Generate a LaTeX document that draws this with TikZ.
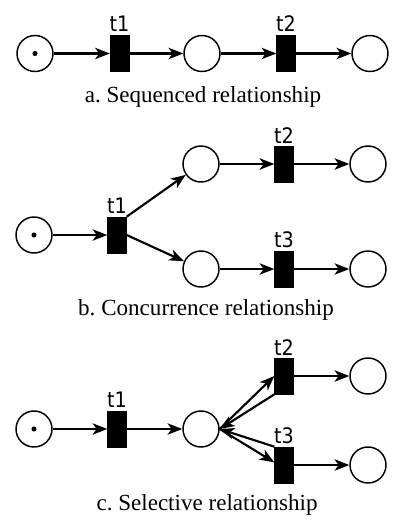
\documentclass[tikz,border=0pt]{standalone}
\usepackage{fontspec}
\setmainfont{Liberation Serif}
\newfontfamily\labfont{DejaVu Sans Condensed}
\usetikzlibrary{arrows.meta}
\frenchspacing
\begin{document}
\begin{tikzpicture}[x=0.75pt,y=-0.75pt,
  place/.style={circle,draw,line width=1.1pt,minimum size=27pt,inner sep=0pt},
  trans/.style={rectangle,fill=black,draw=black,line width=0.5pt,minimum width=14pt,minimum height=27pt,inner sep=0pt},
  arc/.style={line width=1.6pt,-{Stealth[length=11pt,width=8.5pt,inset=3pt]}},
  lab/.style={font=\labfont\fontsize{16}{18}\selectfont,anchor=base,inner sep=0pt},
  captext/.style={font=\frenchspacing\fontsize{17.3}{20}\selectfont,anchor=base,inner sep=0pt},
  tok/.style={circle,fill=black,minimum size=3.8pt,inner sep=0pt}]
\useasboundingbox (0,0) rectangle (400,526);
% ---------- a ----------
\node[place] (a1) at (35,53.5) {};
\node[tok] (a1t) at (a1) {};
\node[trans] (at1) at (119.5,53.5) {};
\node[place] (a2) at (202,53.5) {};
\node[trans] (at2) at (286,53.5) {};
\node[place] (a3) at (370,53.5) {};
\node[lab] (lat1) at ([yshift=2.5pt]at1.north) {t1};
\node[lab] (lat2) at ([yshift=2.5pt]at2.north) {t2};
\draw[arc] (a1) -- (at1);
\draw[arc] (at1) -- (a2);
\draw[arc] (a2) -- (at2);
\draw[arc] (at2) -- (a3);
\node[captext] (capa) at (203,102) {a. Sequenced relationship};
% ---------- b ----------
\node[place] (b1) at (34,235) {};
\node[tok] (b1t) at (b1) {};
\node[trans] (bt1) at (117,235) {};
\node[place] (b2) at (201,164) {};
\node[trans] (bt2) at (284,164) {};
\node[place] (b3) at (368,164) {};
\node[place] (b4) at (201,269) {};
\node[trans] (bt3) at (284,269) {};
\node[place] (b5) at (368,269) {};
\node[lab] (lbt1) at ([yshift=2.5pt]bt1.north) {t1};
\node[lab] (lbt2) at ([yshift=1.5pt]bt2.north) {t2};
\node[lab] (lbt3) at ([yshift=2.5pt]bt3.north) {t3};
\draw[arc] (b1) -- (bt1);
\draw[arc] (bt1.north east) -- (b2);
\draw[arc] (bt1.east) -- (b4);
\draw[arc] (b2) -- (bt2);
\draw[arc] (bt2) -- (b3);
\draw[arc] (b4) -- (bt3);
\draw[arc] (bt3) -- (b5);
\node[captext] (capb) at (206,315.5) {b. Concurrence relationship};
% ---------- c ----------
\node[place] (c1) at (34,429) {};
\node[tok] (c1t) at (c1) {};
\node[trans] (ct1) at (117,429) {};
\node[place] (c2) at (201,429) {};
\node[trans] (ct2) at (284,376) {};
\node[place] (c3) at (368,376) {};
\node[trans] (ct3) at (284,465) {};
\node[place] (c4) at (368,465) {};
\node[lab] (lct1) at ([yshift=2.5pt]ct1.north) {t1};
\node[lab] (lct2) at ([yshift=1.5pt]ct2.north) {t2};
\node[lab] (lct3) at ([yshift=2.5pt]ct3.north) {t3};
\draw[arc] (c1) -- (ct1);
\draw[arc] (ct1) -- (c2);
\draw[arc] (c2.east) -- (ct2.west);
\draw[arc] (ct2.south west) -- (c2.east);
\draw[arc] (c2.east) -- ([yshift=2pt]ct3.west);
\draw[arc] (ct3.north west) -- (c2.east);
\draw[arc] (ct2) -- (c3);
\draw[arc] (ct3) -- (c4);
\node[captext] (capc) at (207,510) {c. Selective relationship};
\end{tikzpicture}
\end{document}
